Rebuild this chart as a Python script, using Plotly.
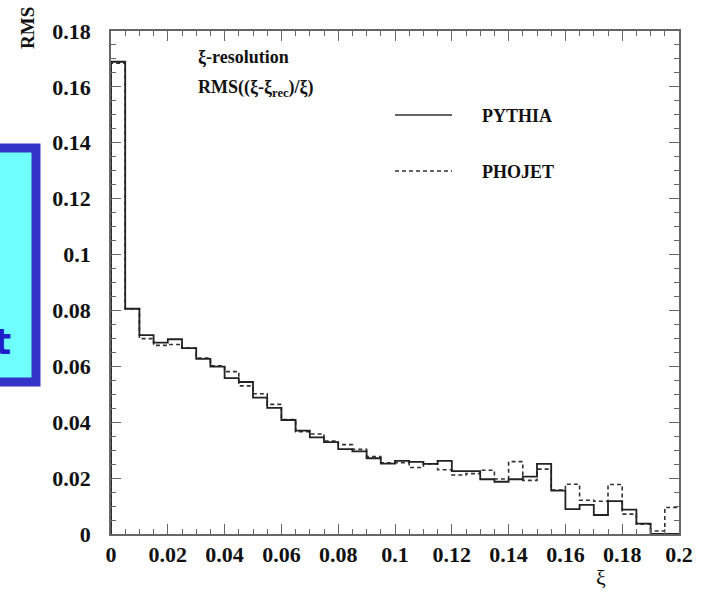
import plotly.graph_objects as go

bin_edges = [round(i * 0.005, 3) for i in range(41)]

pythia = [0.169, 0.0806, 0.0712, 0.0685, 0.0697, 0.0665, 0.0627, 0.0599, 0.0558, 0.0544,
          0.0488, 0.0451, 0.0408, 0.0370, 0.0346, 0.0329, 0.0304, 0.0296, 0.0271, 0.0252,
          0.0262, 0.0258, 0.0251, 0.0262, 0.0225, 0.0225, 0.0196, 0.0187, 0.0196, 0.0205,
          0.0251, 0.0155, 0.0089, 0.0104, 0.0068, 0.0118, 0.0087, 0.0037, 0.0, 0.0]
phojet = [0.1685, 0.0806, 0.0699, 0.0675, 0.0678, 0.0665, 0.0630, 0.0602, 0.0581, 0.0530,
          0.0502, 0.0464, 0.0410, 0.0366, 0.0358, 0.0333, 0.0320, 0.0303, 0.0277, 0.0255,
          0.0255, 0.0238, 0.0251, 0.0230, 0.0211, 0.0216, 0.0228, 0.0197, 0.0259, 0.0192,
          0.0232, 0.0157, 0.0178, 0.0121, 0.0117, 0.0177, 0.0071, 0.0035, 0.0011, 0.0095]

x_ticks = [0, 0.02, 0.04, 0.06, 0.08, 0.1, 0.12, 0.14, 0.16, 0.18, 0.2]
x_ticklabels = ["0", "0.02", "0.04", "0.06", "0.08", "0.1", "0.12", "0.14", "0.16", "0.18", "0.2"]
y_ticks = [0, 0.02, 0.04, 0.06, 0.08, 0.1, 0.12, 0.14, 0.16, 0.18]
y_ticklabels = ["0", "0.02", "0.04", "0.06", "0.08", "0.1", "0.12", "0.14", "0.16", "0.18"]

SERIF = "Liberation Serif"
W, H = 709, 595
ML, MR, MT, MB = 111, 30, 31, 61
PW, PH = W - ML - MR, H - MT - MB


def px(xp):
    return (xp - ML) / PW


def py(yp):
    return (H - MB - yp) / PH


def step(vals):
    return [0] + list(vals) + [vals[-1]]


fig = go.Figure()
xs = [bin_edges[0]] + bin_edges
fig.add_trace(go.Scatter(x=xs, y=step(phojet), mode="lines", line_shape="hv",
                         line=dict(color="#333333", width=1.6, dash="4px,3px"),
                         name="PHOJET", showlegend=False))
fig.add_trace(go.Scatter(x=xs, y=step(pythia), mode="lines", line_shape="hv",
                         line=dict(color="#222222", width=1.8),
                         name="PYTHIA", showlegend=False))

axis_common = dict(showgrid=False, zeroline=False, showline=True, linecolor="#666666",
                   linewidth=1.5, mirror="allticks", ticks="inside", ticklen=10,
                   tickcolor="#666666", tickwidth=1,
                   tickfont=dict(family=SERIF, size=22, color="#111111", weight="bold"))

fig.update_xaxes(range=[0, 0.2], tickvals=x_ticks, ticktext=x_ticklabels,
                 ticklabelstandoff=0,
                 minor=dict(dtick=0.005, ticks="inside", ticklen=5, tickcolor="#666666"),
                 **axis_common)
fig.update_yaxes(range=[0, 0.18], tickvals=y_ticks, ticktext=y_ticklabels,
                 ticklabelstandoff=14,
                 minor=dict(dtick=0.005, ticks="inside", ticklen=5, tickcolor="#666666"),
                 **axis_common)

shapes = [
    dict(type="rect", xref="paper", yref="paper", x0=px(-30), x1=px(36), y0=py(382), y1=py(148),
         line=dict(color="#3434C8", width=9), fillcolor="#70FFFF", layer="above"),
    dict(type="line", xref="paper", yref="paper", x0=px(395), x1=px(452), y0=py(115), y1=py(115),
         line=dict(color="#333333", width=1.5)),
    dict(type="line", xref="paper", yref="paper", x0=px(395), x1=px(452), y0=py(171), y1=py(171),
         line=dict(color="#333333", width=1.3, dash="4px,3px")),
]

annots = [
    dict(text="<b>ξ-resolution</b>", x=px(196), y=py(57), xanchor="left", yanchor="middle",
         font=dict(family=SERIF, size=18, color="#111111")),
    dict(text="<b>RMS((ξ-ξ<sub>rec</sub>)/ξ)</b>", x=px(196), y=py(88), xanchor="left", yanchor="middle",
         font=dict(family=SERIF, size=18, color="#111111")),
    dict(text="<b>PYTHIA</b>", x=px(480), y=py(116), xanchor="left", yanchor="middle",
         font=dict(family=SERIF, size=18, color="#111111")),
    dict(text="<b>PHOJET</b>", x=px(480), y=py(172), xanchor="left", yanchor="middle",
         font=dict(family=SERIF, size=18, color="#111111")),
    dict(text="<b>RMS</b>", x=px(27), y=py(28), textangle=-90, xanchor="center", yanchor="middle",
         font=dict(family=SERIF, size=19, color="#111111")),
    dict(text="ξ", x=px(601), y=py(577), xanchor="center", yanchor="middle",
         font=dict(family=SERIF, size=22, color="#111111")),
    dict(text="<b>t</b>", x=px(13), y=py(341), xanchor="right", yanchor="middle",
         font=dict(family="DejaVu Sans", size=36, color="#2020C8")),
]
for a in annots:
    a.update(xref="paper", yref="paper", showarrow=False)

fig.update_layout(width=W, height=H, margin=dict(l=ML, r=MR, t=MT, b=MB),
                  plot_bgcolor="white", paper_bgcolor="white",
                  shapes=shapes, annotations=annots, showlegend=False)

fig.write_html("out.html")
